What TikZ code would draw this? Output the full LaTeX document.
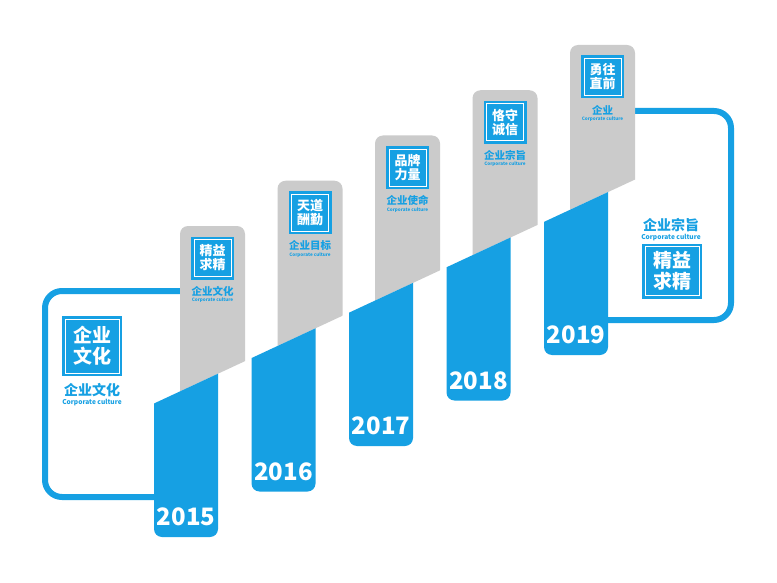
\documentclass[tikz,border=0pt]{standalone}
\usepackage{fontspec}
\usetikzlibrary{positioning}
\newfontfamily\cjk{Noto Sans CJK SC}
\definecolor{tlblue}{RGB}{22,160,227}
\definecolor{tlgray}{RGB}{203,203,203}

\begin{document}
\begin{tikzpicture}[x=1pt,y=-1pt]
  \tikzstyle{frame}=[draw=tlblue,line width=6pt,rounded corners=17pt]
  \tikzstyle{iconbox}=[fill=tlblue,minimum size=43pt,inner sep=0pt,text=white,align=center,
    font=\cjk\bfseries\fontsize{13}{14}\selectfont,
    path picture={\draw[white,line width=0.9pt] ([shift={(3pt,-3pt)}]path picture bounding box.north west)
      rectangle ([shift={(-3pt,3pt)}]path picture bounding box.south east);}]
  \tikzstyle{bigbox}=[iconbox,minimum size=60pt,font=\cjk\bfseries\fontsize{19}{21}\selectfont]
  \tikzstyle{captext}=[text=tlblue,inner sep=0pt,font=\cjk\bfseries\fontsize{10.5}{11}\selectfont]
  \tikzstyle{bigcaptext}=[captext,font=\cjk\bfseries\fontsize{14}{15}\selectfont]
  \tikzstyle{subtext}=[text=tlblue,inner sep=0pt,font=\cjk\bfseries\fontsize{4.6}{5}\selectfont]
  \tikzstyle{bigsubtext}=[subtext,font=\cjk\bfseries\fontsize{6.6}{7}\selectfont]
  \tikzstyle{yeartext}=[text=white,inner sep=0pt,font=\cjk\bfseries\fontsize{24}{24}\selectfont]

  \useasboundingbox[fill=white] (0,0) rectangle (777,583);

  % the two blue frames, behind the columns
  \draw[frame] (200,291) -- (45,291) -- (45,497) -- (175,497);
  \draw[frame] (620,111) -- (731,111) -- (731,320) -- (590,320);

  % columns: grey top, blue bottom, split by one slanted line
  \foreach \i/\yr/\word/\capt in {0/2015/精益\\求精/企业文化, 1/2016/天道\\酬勤/企业目标,
      2/2017/品牌\\力量/企业使命, 3/2018/恪守\\诚信/企业宗旨, 4/2019/勇往\\直前/企业}{
    \pgfmathsetmacro\bx{154+97.5*\i}
    \pgfmathsetmacro\gt{226-45.25*\i}
    \pgfmathsetmacro\bb{537-45.5*\i}
    \begin{scope}
      \clip (0,0) -- (777,0) -- (777,113.4) -- (0,475.2) -- cycle;
      \fill[tlgray,rounded corners=8pt] (\bx+26,\gt) rectangle (\bx+91,\gt+330);
    \end{scope}
    \begin{scope}
      \clip (0,475.2) -- (777,113.4) -- (777,583) -- (0,583) -- cycle;
      \fill[tlblue,rounded corners=8pt] (\bx,\bb-330) rectangle (\bx+64,\bb);
    \end{scope}
    \node[iconbox] (box\yr) at (\bx+58.5,\gt+32) {\word};
    \node[captext] (cap\yr) at (\bx+58.5,\gt+65) {\capt};
    \node[subtext, below=1.5pt of cap\yr] (sub\yr) {Corporate culture};
    \node[yeartext] (y\yr) at (\bx+32,\bb-20) {\yr};
  }

  % left frame content
  \node[bigbox] (culture) at (92,346) {企业\\文化};
  \node[bigcaptext] (culturecap) at (92,390) {企业文化};
  \node[bigsubtext, below=2pt of culturecap] (culturesub) {Corporate culture};

  % right frame content
  \node[bigcaptext] (aimcap) at (671,225) {企业宗旨};
  \node[bigsubtext, below=2pt of aimcap] (aimsub) {Corporate culture};
  \node[bigbox,minimum width=60pt,minimum height=55pt] (aim) at (672,271) {精益\\求精};
\end{tikzpicture}
\end{document}
